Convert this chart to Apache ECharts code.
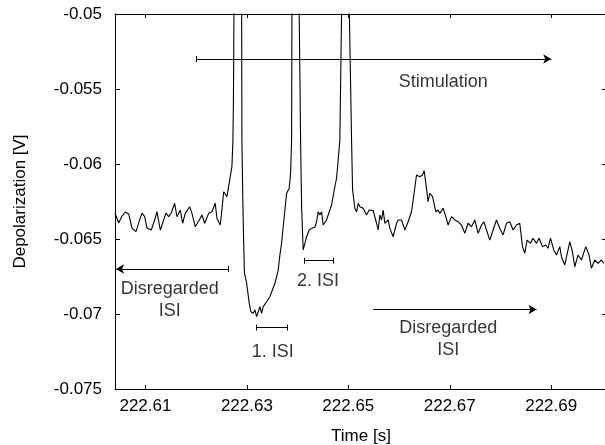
<!DOCTYPE html>
<html><head><meta charset="utf-8">
<script src="https://cdn.jsdelivr.net/npm/echarts@6/dist/echarts.min.js"></script>
<style>html,body{margin:0;padding:0;background:#fff}#c{width:605px;height:445px}</style>
</head><body><div id="c"></div>
<script>
// ---- data (time in s, depolarization in V) ----
const timeS = [
222.60400, 222.60473, 222.60538, 222.60603, 222.60670, 222.60735, 222.60814, 222.60867, 222.60932, 222.60985,
222.61031, 222.61115, 222.61194, 222.61228, 222.61293, 222.61360, 222.61405, 222.61458, 222.61509, 222.61576,
222.61622, 222.61687, 222.61734, 222.61785, 222.61872, 222.61917, 222.61982, 222.62061, 222.62114, 222.62168,
222.62246, 222.62311, 222.62345, 222.62376, 222.62410, 222.62475, 222.62508, 222.62542, 222.62573, 222.62607,
222.62640, 222.62672, 222.62705, 222.62725, 222.62735, 222.62745, 222.62820, 222.62897, 222.62902, 222.62922,
222.62936, 222.62952, 222.62995, 222.63046, 222.63080, 222.63125, 222.63159, 222.63192, 222.63224, 222.63257,
222.63291, 222.63322, 222.63356, 222.63389, 222.63421, 222.63454, 222.63488, 222.63553, 222.63618, 222.63651,
222.63685, 222.63716, 222.63750, 222.63783, 222.63835, 222.63862, 222.63882, 222.63888, 222.63957, 222.64032,
222.64059, 222.64079, 222.64110, 222.64144, 222.64177, 222.64229, 222.64276, 222.64307, 222.64341, 222.64374,
222.64406, 222.64439, 222.64473, 222.64504, 222.64538, 222.64571, 222.64603, 222.64636, 222.64670, 222.64702,
222.64735, 222.64768, 222.64800, 222.64833, 222.64867, 222.64942, 222.65021, 222.65064, 222.65084, 222.65129,
222.65163, 222.65194, 222.65228, 222.65293, 222.65360, 222.65411, 222.65490, 222.65557, 222.65588, 222.65622,
222.65655, 222.65687, 222.65720, 222.65785, 222.65819, 222.65884, 222.65951, 222.65982, 222.66049, 222.66114,
222.66179, 222.66246, 222.66292, 222.66345, 222.66410, 222.66463, 222.66495, 222.66528, 222.66573, 222.66607,
222.66660, 222.66725, 222.66770, 222.66804, 222.66869, 222.66922, 222.66968, 222.67035, 222.67100, 222.67165,
222.67232, 222.67297, 222.67362, 222.67429, 222.67494, 222.67559, 222.67626, 222.67671, 222.67724, 222.67789,
222.67854, 222.67921, 222.67986, 222.68051, 222.68118, 222.68183, 222.68248, 222.68315, 222.68380, 222.68434,
222.68479, 222.68524, 222.68591, 222.68642, 222.68709, 222.68761, 222.68828, 222.68893, 222.68938, 222.68985,
222.69050, 222.69103, 222.69169, 222.69202, 222.69267, 222.69332, 222.69366, 222.69419, 222.69464, 222.69529,
222.69596, 222.69681, 222.69746, 222.69793, 222.69858, 222.69923, 222.69990, 222.70041
];
const voltageV = [
-0.06327, -0.06393, -0.06347, -0.06320, -0.06333, -0.06427, -0.06451, -0.06393, -0.06327, -0.06351,
-0.06427, -0.06440, -0.06360, -0.06318, -0.06440, -0.06373, -0.06327, -0.06351, -0.06327, -0.06262,
-0.06351, -0.06307, -0.06395, -0.06329, -0.06285, -0.06329, -0.06418, -0.06373, -0.06340, -0.06395,
-0.06329, -0.06318, -0.06329, -0.06262, -0.06362, -0.06407, -0.06307, -0.06185, -0.06173, -0.06218,
-0.06151, -0.06085, -0.06018, -0.05840, -0.05573, -0.05000, 0.02000, -0.05000, -0.05840, -0.06285,
-0.06507, -0.06727, -0.06793, -0.06927, -0.06985, -0.06995, -0.06973, -0.07018, -0.06985, -0.06951,
-0.06995, -0.06951, -0.06962, -0.06918, -0.06929, -0.06885, -0.06895, -0.06795, -0.06707, -0.06607,
-0.06527, -0.06418, -0.06307, -0.06195, -0.06162, -0.06062, -0.05840, -0.05000, 0.02000, -0.05000,
-0.05840, -0.06285, -0.06573, -0.06529, -0.06485, -0.06440, -0.06429, -0.06440, -0.06422, -0.06385,
-0.06318, -0.06340, -0.06318, -0.06407, -0.06407, -0.06373, -0.06340, -0.06340, -0.06273, -0.06262,
-0.06151, -0.06095, -0.05973, -0.05840, -0.05000, 0.02000, -0.05000, -0.05840, -0.06173, -0.06295,
-0.06320, -0.06262, -0.06285, -0.06295, -0.06340, -0.06307, -0.06311, -0.06395, -0.06440, -0.06340,
-0.06373, -0.06307, -0.06395, -0.06373, -0.06429, -0.06485, -0.06395, -0.06373, -0.06373, -0.06440,
-0.06385, -0.06318, -0.06207, -0.06073, -0.06085, -0.06073, -0.06045, -0.06129, -0.06251, -0.06195,
-0.06218, -0.06318, -0.06307, -0.06329, -0.06295, -0.06351, -0.06407, -0.06351, -0.06373, -0.06385,
-0.06407, -0.06462, -0.06395, -0.06418, -0.06373, -0.06462, -0.06407, -0.06385, -0.06440, -0.06507,
-0.06440, -0.06373, -0.06429, -0.06473, -0.06395, -0.06385, -0.06440, -0.06407, -0.06395, -0.06551,
-0.06595, -0.06507, -0.06529, -0.06495, -0.06529, -0.06495, -0.06551, -0.06540, -0.06562, -0.06495,
-0.06573, -0.06607, -0.06551, -0.06618, -0.06673, -0.06573, -0.06518, -0.06585, -0.06685, -0.06607,
-0.06640, -0.06551, -0.06607, -0.06695, -0.06640, -0.06662, -0.06640, -0.06662
];
const xTickValues = [222.61, 222.63, 222.65, 222.67, 222.69];
const xMin = 222.604, xMax = 222.701;
const yMin = -0.075, yMax = -0.05, yStep = 0.005;

// ---- annotations (data coordinates) ----
const annoLineT1 = [222.6200, 222.6263, 222.6549, 222.6319, 222.6413];
const annoLineT2 = [222.6900, 222.6042, 222.6871, 222.6380, 222.6470];
const annoLineV  = [-0.0530, -0.0670, -0.0697, -0.0709, -0.06645];
const annoStartBar = [true, true, false, true, true];
const annoEndArrow = [true, true, true, false, false];
const annoTexts = ['Stimulation', 'Disregarded\nISI', 'Disregarded\nISI', '1. ISI', '2. ISI'];
const annoTextT = [222.6687, 222.6148, 222.6697, 222.6351, 222.6440];
const annoTextV = [-0.05455, -0.06909, -0.07165, -0.07251, -0.06780];

const FONT = 'Liberation Sans, Arial, Helvetica, sans-serif';
const barHalf = 0.0002;
const markData = [];
annoLineV.forEach((v, i) => {
  markData.push([{coord: [annoLineT1[i], v], symbol: 'none'},
                 {coord: [annoLineT2[i], v], symbol: annoEndArrow[i] ? 'arrow' : 'none'}]);
  if (annoStartBar[i]) markData.push([{coord: [annoLineT1[i], v - barHalf], symbol: 'none'}, {coord: [annoLineT1[i], v + barHalf], symbol: 'none'}]);
  if (!annoEndArrow[i]) markData.push([{coord: [annoLineT2[i], v - barHalf], symbol: 'none'}, {coord: [annoLineT2[i], v + barHalf], symbol: 'none'}]);
});

const chart = echarts.init(document.getElementById('c'), null, {renderer: 'canvas'});
const axisCommon = {
  axisLine: {show: true, onZero: false, lineStyle: {color: '#000', width: 1}},
  splitLine: {show: false}
};
chart.setOption({
  animation: false,
  backgroundColor: '#fff',
  grid: {left: 115, top: 14, width: 492, height: 375, containLabel: false, outerBoundsMode: 'none'},
  xAxis: [
    Object.assign({
      type: 'value', min: xMin, max: xMax, position: 'bottom',
      axisTick: {show: true, inside: true, length: 4, customValues: xTickValues, lineStyle: {color: '#000'}},
      axisLabel: {show: true, customValues: xTickValues, formatter: v => Number(v).toFixed(2), color: '#000', fontSize: 17, fontFamily: FONT, margin: 9},
      name: 'Time [s]', nameLocation: 'middle', nameGap: 39,
      nameTextStyle: {color: '#000', fontSize: 17, fontFamily: FONT}
    }, axisCommon),
    Object.assign({
      type: 'value', min: xMin, max: xMax, position: 'top',
      axisTick: {show: true, inside: true, length: 4, customValues: xTickValues, lineStyle: {color: '#000'}},
      axisLabel: {show: false}
    }, axisCommon)
  ],
  yAxis: [
    Object.assign({
      type: 'value', min: yMin, max: yMax, interval: yStep, position: 'left',
      axisTick: {show: true, inside: true, length: 5, lineStyle: {color: '#000'}},
      axisLabel: {formatter: v => String(parseFloat(Number(v).toFixed(4))), color: '#000', fontSize: 17, fontFamily: FONT, margin: 13},
      name: 'Depolarization [V]', nameLocation: 'middle', nameGap: 86, nameRotate: 90,
      nameTextStyle: {color: '#000', fontSize: 17, fontFamily: FONT}
    }, axisCommon),
    Object.assign({
      type: 'value', min: yMin, max: yMax, interval: yStep, position: 'right',
      axisTick: {show: true, inside: true, length: 5, lineStyle: {color: '#000'}},
      axisLabel: {show: false}
    }, axisCommon)
  ],
  series: [
    {
      type: 'line', xAxisIndex: 0, yAxisIndex: 0,
      data: timeS.map((t, i) => [t, voltageV[i]]),
      showSymbol: false, symbol: 'none', clip: true, silent: true,
      lineStyle: {color: '#000', width: 1.1},
      markLine: {
        silent: true, symbol: ['none', 'none'], symbolSize: [7, 8],
        lineStyle: {color: '#000', width: 1, type: 'solid'},
        label: {show: false}, emphasis: {disabled: true}, animation: false,
        data: markData
      }
    },
    {
      type: 'scatter', xAxisIndex: 0, yAxisIndex: 0, silent: true,
      symbolSize: 0,
      data: annoTexts.map((s, i) => ({value: [annoTextT[i], annoTextV[i]], name: s})),
      label: {show: true, position: 'inside', formatter: '{b}', color: '#000', fontSize: 18, lineHeight: 22, fontFamily: FONT, align: 'center'}
    }
  ]
});
</script>
</body></html>
